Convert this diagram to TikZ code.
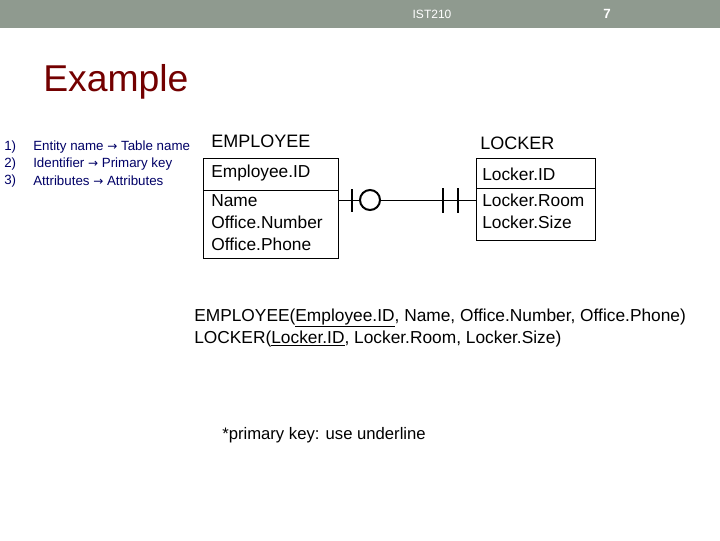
\documentclass[tikz,border=0pt]{standalone}
\usepackage{fontspec}
\setmainfont{Liberation Sans}
\newfontfamily\symf{DejaVu Sans}
\newcommand{\myarr}{{\symf\fontsize{9}{10}\selectfont →}}
\definecolor{hdr}{RGB}{143,154,143}
\begin{document}
\begin{tikzpicture}[x=0.75pt,y=-0.75pt,
  lst/.style={anchor=west,inner sep=0,text=blue!40!black,font=\fontsize{10}{12}\selectfont},
  bx/.style={anchor=north west,inner sep=0,font=\fontsize{13}{16.5}\selectfont,align=left},
  er/.style={line width=1.5pt}]
\useasboundingbox (0,0) rectangle (720,540);
\fill[hdr] (0,0) rectangle (720,28);
\node[text=white,font=\fontsize{9}{10}\selectfont] (h1) at (432,14) {IST210};
\node[text=white,font=\bfseries\fontsize{10}{10}\selectfont] (h2) at (607,14) {7};
\node[anchor=west,inner sep=0,text=red!45!black,font=\fontsize{28}{30}\selectfont] (title) at (43,82) {Example};
\foreach \y/\n/\t in {147/1/Entity name \myarr\ Table name,164/2/Identifier \myarr\ Primary key,181/3/Attributes \myarr\ Attributes}{
  \node[lst] (n\n) at (4,\y) {\n)};
  \node[lst] (t\n) at (33,\y) {\t};
}
\node[anchor=west,inner sep=0,font=\fontsize{13.5}{16}\selectfont] (en) at (211,141) {EMPLOYEE};
\node[anchor=west,inner sep=0,font=\fontsize{13.5}{16}\selectfont] (ln) at (480,143) {LOCKER};
\draw (203,158) rectangle (338,190);
\draw (203,190) rectangle (338,258);
\draw (476,158) rectangle (595,188);
\draw (476,188) rectangle (595,240);
\node[anchor=west,inner sep=0,font=\fontsize{13}{16}\selectfont] (ek) at (211,173) {Employee.ID};
\node[bx] (ea) at (211,194) {Name\\Office.Number\\Office.Phone};
\node[anchor=west,inner sep=0,font=\fontsize{13}{16}\selectfont] (lk) at (482,174) {Locker.ID};
\node[bx] (la) at (482,194) {Locker.Room\\Locker.Size};
\coordinate (a) at (338,200); \coordinate (b) at (476,200);
\draw (a) -- (360,200) (380,200) -- (b);
\draw[er] (352,189) -- (352,212);
\draw[er] (370,200) circle (10);
\draw[er] (443,188) -- (443,213);
\draw[er] (458,188) -- (458,213);
\node[anchor=west,inner sep=0,font=\fontsize{13}{15}\selectfont] (r1) at (194,318) {EMPLOYEE(\underline{Employee.ID}, Name, Office.Number, Office.Phone)};
\node[anchor=west,inner sep=0,font=\fontsize{13}{15}\selectfont] (r2) at (194,339) {LOCKER(\underline{Locker.ID}, Locker.Room, Locker.Size)};
\node[anchor=west,inner sep=0,font=\fontsize{12.5}{15}\selectfont] (pk) at (222,435) {*primary key: use underline};
\end{tikzpicture}
\end{document}
